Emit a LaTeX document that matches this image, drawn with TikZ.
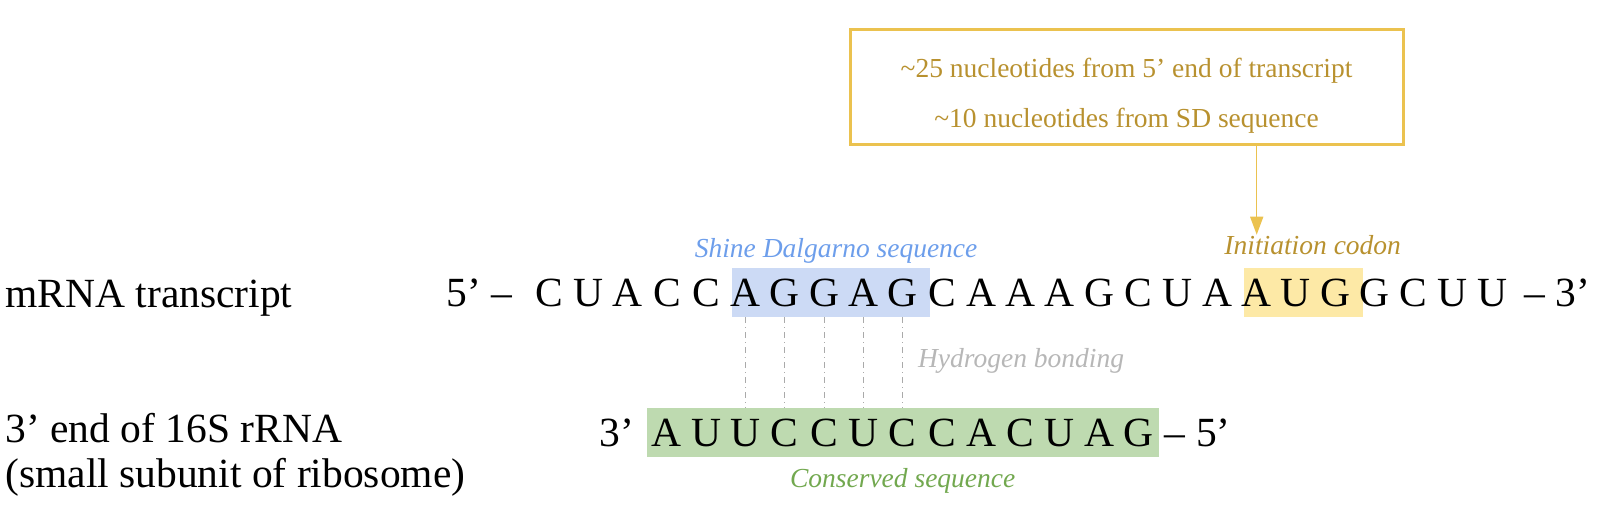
\documentclass[tikz,border=0pt]{standalone}
\usepackage{fontspec}
\setmainfont{Liberation Serif}
\usetikzlibrary{fit,backgrounds,arrows.meta}

\definecolor{sdfill}{RGB}{204,218,245}
\definecolor{sdtext}{RGB}{109,158,235}
\definecolor{augfill}{RGB}{253,233,166}
\definecolor{goldtext}{RGB}{184,145,47}
\definecolor{goldline}{RGB}{235,194,79}
\definecolor{consfill}{RGB}{190,218,176}
\definecolor{constext}{RGB}{114,168,79}
\definecolor{graytext}{RGB}{183,183,183}
\definecolor{grayline}{RGB}{170,170,170}

\begin{document}
\begin{tikzpicture}[x=0.5pt,y=-0.5pt]

\tikzstyle{nuc}=[inner sep=0, minimum width=19.65pt, text height=19.5pt, text depth=5pt, font=\fontsize{20.75}{24}\selectfont]
\tikzstyle{seq}=[inner sep=0, font=\fontsize{20.75}{24}\selectfont]
\tikzstyle{tag}=[inner sep=0, font=\fontsize{13.75}{16}\selectfont\itshape]
\tikzstyle{note}=[rectangle, draw=goldline, line width=1.5pt, minimum width=276.5pt, minimum height=57.5pt]
\tikzstyle{notetext}=[inner sep=0, text=goldtext, font=\fontsize{13.75}{16}\selectfont]
\tikzstyle{arrow}=[-{Triangle[length=9pt,width=6.5pt]}, goldline, line width=0.75pt]
\tikzstyle{hbond}=[grayline, line width=0.5pt, dash pattern=on 3pt off 2pt on 0.5pt off 2pt]

\useasboundingbox (0,0) rectangle (1600,506);

% left labels
\node (mrna) [seq, anchor=base west] at (5,308) {mRNA transcript};
\node (rrna) [seq, anchor=base west] at (5,443) {3’ end of 16S rRNA};
\node (ssu) [seq, anchor=base west] at (5,488) {(small subunit of ribosome)};

% mRNA strand
\foreach \b [count=\i] in {C,U,A,C,C,A,G,G,A,G,C,A,A,A,G,C,U,A,A,U,G,G,C,U,U}
  \node (u\i) [nuc, anchor=base] at ({549+39.3*(\i-1)},307) {\b};
\node (u5p) [seq, anchor=base east] at ([xshift=-8pt]u1.base west) {5’ –};
\node (u3p) [seq, anchor=base west] at ([xshift=6pt]u25.base east) {– 3’};

% 16S rRNA strand
\foreach \b [count=\i] in {A,U,U,C,C,U,C,C,A,C,U,A,G}
  \node (l\i) [nuc, anchor=base] at ({549+39.3*(\i+2)},447) {\b};
\node (l3p) [seq, anchor=base east] at ([xshift=-6pt]l1.base west) {3’};
\node (l5p) [seq, anchor=base west] at ([xshift=3pt]l13.base east) {– 5’};

% highlights
\begin{scope}[on background layer]
\node (sd) [fit=(u6)(u10), inner sep=0, fill=sdfill, xshift=3.5pt] {};
\node (aug) [fit=(u19)(u21), inner sep=0, fill=augfill, xshift=4pt] {};
\node (cons) [fit=(l1)(l13), inner sep=0, fill=consfill] {};
\end{scope}

\node (sdlab) [tag, text=sdtext, anchor=base, xshift=2.5pt] at ([yshift=5pt]sd.north) {Shine Dalgarno sequence};
\node (initlab) [tag, text=goldtext, anchor=base, xshift=4.5pt] at ([yshift=6.5pt]aug.north) {Initiation codon};
\node (conslab) [tag, text=constext, anchor=base] at ([yshift=-15pt]cons.south) {Conserved sequence};
\node (hlab) [tag, text=graytext, anchor=base west] at ([xshift=7.5pt,yshift=-25pt]u10.south) {Hydrogen bonding};

% hydrogen bonds
\foreach \i/\j in {6/3,7/4,8/5,9/6,10/7}
  \draw [hbond] (u\i.south) -- (u\i.south |- l\j.north);

% note on the start codon
\node (note) [note] at (1126.5,87.5) {};
\node (n1) [notetext, anchor=base] at ([yshift=-24.5pt]note.north) {\textasciitilde25 nucleotides from 5’ end of transcript};
\node (n2) [notetext, anchor=base] at ([yshift=-25pt]n1.base) {\textasciitilde10 nucleotides from SD sequence};

\coordinate (tip) at ([xshift=-28pt]initlab.north);
\draw [arrow] (note.south -| tip) -- (tip);

\end{tikzpicture}
\end{document}
